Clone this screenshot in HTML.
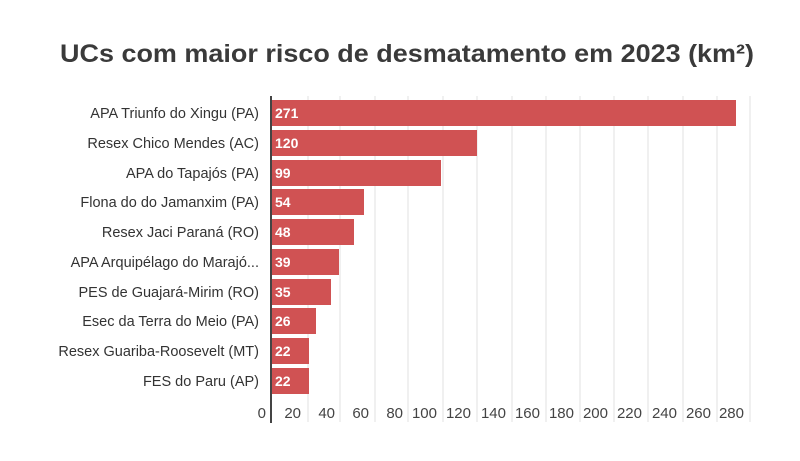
<!DOCTYPE html>
<html><head><meta charset="utf-8"><style>
html,body{margin:0;padding:0;background:#fff;}
svg{display:block;font-family:"Liberation Sans",sans-serif;}
</style></head><body>
<svg width="800" height="461" viewBox="0 0 800 461" xmlns="http://www.w3.org/2000/svg">
<rect width="800" height="461" fill="#fff"/>
<text x="407" y="62" text-anchor="middle" font-size="25" font-weight="bold" fill="#3a3a3a" textLength="694" lengthAdjust="spacingAndGlyphs">UCs com maior risco de desmatamento em 2023 (km²)</text>
<g stroke="#e2e2e2" stroke-width="1">
<line x1="308" y1="96" x2="308" y2="422"/><line x1="340" y1="96" x2="340" y2="422"/>
<line x1="375" y1="96" x2="375" y2="422"/><line x1="408" y1="96" x2="408" y2="422"/>
<line x1="443" y1="96" x2="443" y2="422"/><line x1="477" y1="96" x2="477" y2="422"/>
<line x1="512" y1="96" x2="512" y2="422"/><line x1="546" y1="96" x2="546" y2="422"/>
<line x1="580" y1="96" x2="580" y2="422"/><line x1="614" y1="96" x2="614" y2="422"/>
<line x1="648" y1="96" x2="648" y2="422"/><line x1="683" y1="96" x2="683" y2="422"/>
<line x1="717" y1="96" x2="717" y2="422"/><line x1="750" y1="96" x2="750" y2="422"/>
</g>
<g fill="#d05253">
<rect x="271" y="100" width="465" height="26"/>
<rect x="271" y="130" width="206" height="26"/>
<rect x="271" y="160" width="170" height="26"/>
<rect x="271" y="189" width="93" height="26"/>
<rect x="271" y="219" width="83" height="26"/>
<rect x="271" y="249" width="68" height="26"/>
<rect x="271" y="279" width="60" height="26"/>
<rect x="271" y="308" width="45" height="26"/>
<rect x="271" y="338" width="38" height="26"/>
<rect x="271" y="368" width="38" height="26"/>
</g>
<line x1="271" y1="96" x2="271" y2="423" stroke="#444" stroke-width="2"/>
<g font-size="14" font-weight="bold" fill="#fff">
<text x="275" y="118">271</text><text x="275" y="148">120</text><text x="275" y="178">99</text>
<text x="275" y="207">54</text><text x="275" y="237">48</text><text x="275" y="267">39</text>
<text x="275" y="297">35</text><text x="275" y="326">26</text><text x="275" y="356">22</text>
<text x="275" y="386">22</text>
</g>
<g font-size="14.5" fill="#333" text-anchor="end">
<text x="259" y="118">APA Triunfo do Xingu (PA)</text>
<text x="259" y="148">Resex Chico Mendes (AC)</text>
<text x="259" y="178">APA do Tapajós (PA)</text>
<text x="259" y="207">Flona do do Jamanxim (PA)</text>
<text x="259" y="237">Resex Jaci Paraná (RO)</text>
<text x="259" y="267">APA Arquipélago do Marajó...</text>
<text x="259" y="297">PES de Guajará-Mirim (RO)</text>
<text x="259" y="326">Esec da Terra do Meio (PA)</text>
<text x="259" y="356">Resex Guariba-Roosevelt (MT)</text>
<text x="259" y="386">FES do Paru (AP)</text>
</g>
<g font-size="15" fill="#444" text-anchor="end">
<text x="266" y="418">0</text><text x="301" y="418">20</text><text x="335" y="418">40</text>
<text x="369" y="418">60</text><text x="403" y="418">80</text><text x="437" y="418">100</text>
<text x="471" y="418">120</text><text x="506" y="418">140</text><text x="540" y="418">160</text>
<text x="574" y="418">180</text><text x="608" y="418">200</text><text x="642" y="418">220</text>
<text x="677" y="418">240</text><text x="711" y="418">260</text><text x="744" y="418">280</text>
</g>
</svg>
</body></html>
